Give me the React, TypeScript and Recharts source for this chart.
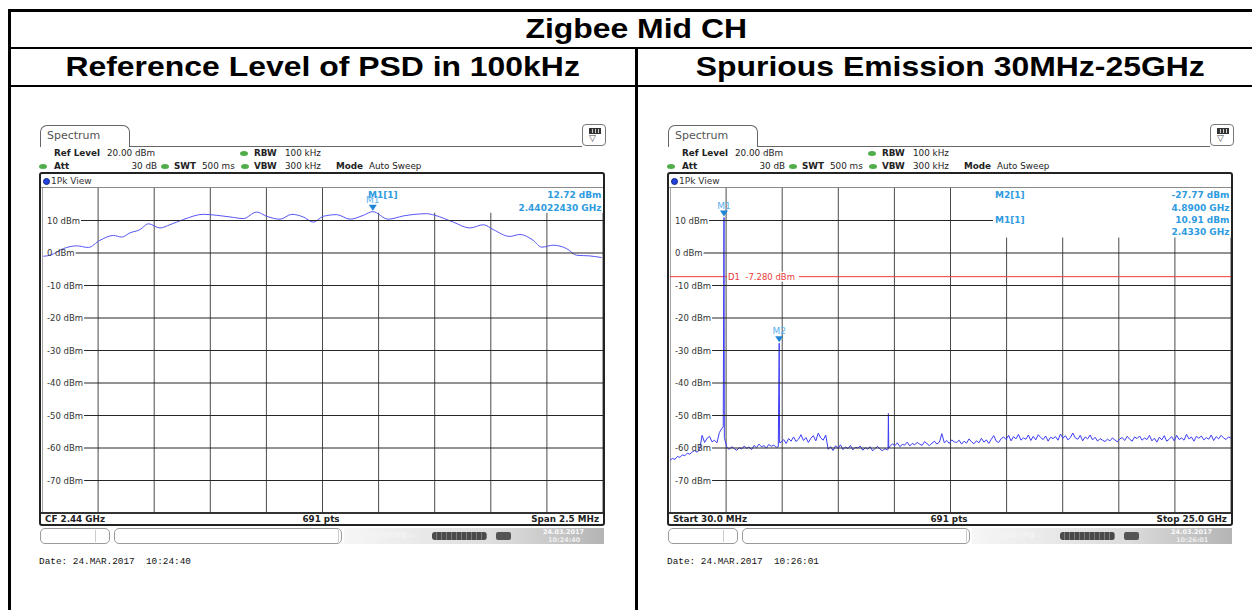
import React from "react";
import {
  LineChart,
  Line,
  XAxis,
  YAxis,
  CartesianGrid,
  ReferenceLine,
  ReferenceArea,
  ReferenceDot,
} from "recharts";

// PSD trace, 2.44 GHz centre, 2.5 MHz span
const leftFreq = [
  2438.756, 2438.786, 2438.845, 2438.905, 2438.956, 2439.008, 2439.068, 2439.105, 2439.142, 2439.187,
  2439.224, 2439.276, 2439.32, 2439.38, 2439.469, 2439.529, 2439.588, 2439.647, 2439.707, 2439.751,
  2439.811, 2439.863, 2439.914, 2439.959, 2440.004, 2440.063, 2440.123, 2440.182, 2440.2243, 2440.293,
  2440.36, 2440.464, 2440.501, 2440.583, 2440.657, 2440.717, 2440.761, 2440.835, 2440.88, 2440.939,
  2440.977, 2441.028, 2441.088, 2441.133, 2441.192, 2441.244,
];
const leftLevel = [
  -1.0, -0.7, 1.35, 2.2, 1.7, 3.9, 5.4, 4.9, 6.2, 7.2,
  9.0, 7.7, 8.7, 10.3, 11.9, 11.6, 11.1, 10.6, 12.6, 11.3,
  10.4, 11.9, 11.1, 9.5, 11.3, 11.8, 10.4, 11.6, 12.72, 10.4,
  11.4, 12.1, 11.6, 9.5, 7.7, 8.7, 7.2, 5.1, 5.7, 3.9,
  1.8, 2.4, 1.35, -0.7, -0.9, -1.4,
];

// spurious sweep 30 MHz - 25 GHz, noise floor read across the screen
const rightNoise = [
  -63.8, -63.2, -63.5, -62.6, -62.9, -62.1, -62.4, -61.6, -61.9, -61.2, -60.8, -61.3, -60.4,
  -56.1, -58.3, -57.0, -56.4, -58.1, -57.6, -58.4, -55.2, -54.0,
  -56.8,
  -59.8, -60.4, -59.6, -60.2, -60.7, -59.9, -60.3, -59.4, -60.1, -59.7, -60.5, -59.2, -59.9, -58.8, -59.6, -59.3, -60.0, -58.9, -59.5, -59.1, -59.8,
  -43.3,
  -58.2, -57.4, -58.6, -57.1, -57.9, -56.6, -58.0, -57.3, -55.9, -57.7, -56.8, -58.3, -57.0, -56.2, -57.8, -55.4, -56.9, -57.6, -56.0,
  -60.4, -59.6, -60.8, -59.3, -60.1, -59.0, -60.5, -59.7, -60.2, -59.2, -60.6, -59.8, -60.0, -59.4, -60.7, -59.9, -60.3, -59.6, -60.9, -60.1, -59.5, -60.4, -60.8, -60.2, -60.6,
  -59.5, -58.7, -59.3, -58.4, -59.6, -58.9, -59.1, -58.2, -59.4, -58.6, -59.0, -58.3, -58.8, -59.2, -58.0, -58.7, -59.3, -58.5, -57.9, -58.8, -58.2, -55.6, -58.4, -57.7, -58.6, -57.5, -58.1,
  -58.3, -57.6, -58.8, -57.9, -58.5, -57.2, -58.1, -58.7, -57.8, -58.4, -57.0, -58.2, -57.5, -58.6, -57.3, -56.2, -57.9, -58.3, -57.1, -56.6,
  -57.4, -56.1, -57.8, -56.5, -57.2, -55.8, -57.6, -56.9, -57.3, -56.0, -57.7, -56.4, -57.5, -55.9, -56.8, -57.4, -56.3, -57.9, -56.7, -57.1,
  -56.5, -57.6, -55.7, -57.0, -56.2, -57.5, -56.8, -55.4, -56.9, -57.3, -56.1, -57.8, -56.6, -57.2, -56.0, -57.5, -56.7, -57.9, -57.1, -57.6,
  -58.0, -57.3, -57.8, -56.9, -57.5, -58.1, -57.2, -56.8, -57.7, -56.4, -57.3, -57.9, -56.6, -57.1, -56.3, -57.6, -56.9, -57.4, -56.1, -57.8,
  -57.0, -58.2, -56.7, -57.5, -56.2, -57.9, -57.3, -56.5, -57.8, -56.1, -57.4, -56.9, -57.6, -55.8, -57.2, -56.6, -57.9, -56.4, -57.0, -56.3,
  -57.5, -56.8, -57.3, -56.0, -57.7, -56.5, -57.2, -56.1, -56.9, -57.4, -56.6, -57.0,
];
const rightSpikeFreq = [2400, 2415, 2433, 4850, 4890, 4910, 9735, 9751, 9767];
const rightSpikeLevel = [-53.5, -21.6, 10.91, -59.6, -27.77, -58.4, -60.4, -49.4, -60.0];

const levelTicks = [10, 0, -10, -20, -30, -40, -50, -60, -70];

const leftStart = 2438.75;
const leftStop = 2441.25;
const rightStart = 30;
const rightStop = 25000;

const leftData = leftFreq.map((f, i) => ({ f, v: leftLevel[i] }));
const rightStep = (rightStop - rightStart) / (rightNoise.length - 1);
const rightData = [
  ...rightNoise.map((v, i) => ({ f: rightStart + i * rightStep, v })),
  ...rightSpikeFreq.map((f, i) => ({ f, v: rightSpikeLevel[i] })),
].sort((a, b) => a.f - b.f);

const FONT = "'DejaVu Sans', Verdana, sans-serif";
const BLUE = "#2f9be0";
const GRID_LEFT = 42;
const GRID_TOP = 188;
const GRID_W = 561;
const GRID_H = 325;

type TProps = {
  x: number;
  y: number;
  children: React.ReactNode;
  bold?: boolean;
  color?: string;
  size?: number;
  align?: "left" | "right" | "center";
  font?: string;
};

function T({ x, y, children, bold, color = "#222", size = 8.8, align = "left", font = FONT }: TProps) {
  const shift = align === "right" ? "translateX(-100%)" : align === "center" ? "translateX(-50%)" : "none";
  return (
    <div
      style={{
        position: "absolute",
        left: x,
        top: y - 7,
        height: 14,
        lineHeight: "14px",
        fontSize: size,
        fontWeight: bold ? 700 : 400,
        color,
        fontFamily: font,
        whiteSpace: "pre",
        transform: shift,
      }}
    >
      {children}
    </div>
  );
}

function GreenDot({ x, y }: { x: number; y: number }) {
  return (
    <div
      style={{
        position: "absolute",
        left: x - 4,
        top: y - 2.5,
        width: 8,
        height: 5,
        borderRadius: "50%",
        background: "#4fae4a",
      }}
    />
  );
}

const dbmTick = (stopAt: (v: number) => number) => (props: any) => {
  const { y, payload } = props;
  const v = payload.value as number;
  const digits = String(Math.abs(v)).length;
  const w = (2.613 + digits * 0.636 + (v < 0 ? 0.361 : 0)) * 8.5;
  return (
    <g>
      <text x={5} y={y + 3} fontSize={8.5} fontFamily={FONT} fill="#333">
        {`${v} dBm`}
      </text>
      <line x1={6 + w} x2={stopAt(v)} y1={y} y2={y} stroke="#262626" strokeWidth={1} />
    </g>
  );
};

const d1Label = (props: any) => {
  const { viewBox } = props;
  const x = viewBox.x + 57;
  const y = viewBox.y;
  return (
    <g>
      <rect x={x} y={y - 5} width={72} height={10} fill="#fff" />
      <text x={x + 1} y={y + 3.2} fontSize={8.5} fill="#e83a3a" fontFamily={FONT}>
        {"D1 \u00a0-7.280 dBm"}
      </text>
    </g>
  );
};

const markerShape = (name: string) => (props: any) => {
  const { cx, cy } = props;
  return (
    <g>
      <polygon points={`${cx - 4},${cy - 7} ${cx + 4},${cy - 7} ${cx},${cy - 1}`} fill="#1f86d6" />
      <text x={cx} y={cy - 9} textAnchor="middle" fontSize={9} fill="#5ab0ee" fontFamily={FONT}>
        {name}
      </text>
    </g>
  );
};

type Marker = { name: string; f: number; v: number };
type Readout = { text: string; x: number; y: number; align?: "left" | "right" };

type PanelProps = {
  ox: number;
  data: { f: number; v: number }[];
  start: number;
  stop: number;
  markers: Marker[];
  box: { x1: number; x2: number; y1: number; y2: number };
  readouts: Readout[];
  d1?: number;
  tickStop: (v: number) => number;
  footer: [string, string, string];
  date: string;
  smooth?: boolean;
  traceColor: string;
};

function Panel({
  ox, data, start, stop, markers, box, readouts, d1, tickStop, footer, date, smooth, traceColor,
}: PanelProps) {
  const xTicks = Array.from({ length: 11 }, (_, i) => start + (i * (stop - start)) / 10);
  return (
    <>
      {/* tab + header */}
      <div
        style={{
          position: "absolute",
          left: ox + 40,
          top: 125,
          width: 90,
          height: 22,
          boxSizing: "border-box",
          border: "1px solid #666",
          borderBottom: "none",
          borderRadius: "7px 7px 0 0",
          background: "#fff",
        }}
      />
      <T x={ox + 47} y={136} size={11} color="#555">
        Spectrum
      </T>
      <div style={{ position: "absolute", left: ox + 129, top: 146, width: 453, height: 1, background: "#666" }} />
      <div
        style={{
          position: "absolute",
          left: ox + 582,
          top: 124,
          width: 24,
          height: 22,
          boxSizing: "border-box",
          border: "1px solid #777",
          borderRadius: 4,
          background: "#fff",
        }}
      >
        <div
          style={{
            position: "absolute",
            left: 6,
            top: 3,
            width: 10,
            height: 4,
            border: "1px solid #333",
            background: "repeating-linear-gradient(to right, #333 0 2px, #ccc 2px 3px)",
          }}
        />
        <div style={{ position: "absolute", left: 6, top: 8, fontSize: 9, lineHeight: "10px", color: "#444" }}>▽</div>
      </div>

      <T x={ox + 54} y={153} bold>Ref Level</T>
      <T x={ox + 107} y={153}>20.00 dBm</T>
      <GreenDot x={ox + 244} y={153} />
      <T x={ox + 254} y={153} bold>RBW</T>
      <T x={ox + 285} y={153}>100 kHz</T>

      <GreenDot x={ox + 43} y={166} />
      <T x={ox + 54} y={166} bold>Att</T>
      <T x={ox + 157} y={166} align="right">30 dB</T>
      <GreenDot x={ox + 165} y={166} />
      <T x={ox + 174} y={166} bold>SWT</T>
      <T x={ox + 202} y={166}>500 ms</T>
      <GreenDot x={ox + 245} y={166} />
      <T x={ox + 254} y={166} bold>VBW</T>
      <T x={ox + 285} y={166}>300 kHz</T>
      <T x={ox + 336} y={166} bold>Mode</T>
      <T x={ox + 369} y={166}>Auto Sweep</T>

      {/* plot frame */}
      <div
        style={{
          position: "absolute",
          left: ox + 39,
          top: 172,
          width: 566,
          height: 354,
          boxSizing: "border-box",
          border: "2px solid #222",
          borderRadius: 3,
        }}
      />
      <div
        style={{
          position: "absolute",
          left: ox + 42.5,
          top: 177.5,
          width: 7,
          height: 7,
          borderRadius: "50%",
          background: "#2244dd",
          boxSizing: "border-box",
          border: "1px solid #112288",
        }}
      />
      <T x={ox + 51} y={181} size={9} color="#333">1Pk View</T>
      <div style={{ position: "absolute", left: ox + 41, top: 187, width: 562, height: 1, background: "#8a8a8a" }} />

      <div style={{ position: "absolute", left: ox + GRID_LEFT, top: GRID_TOP }}>
        <LineChart width={GRID_W} height={GRID_H} data={data} margin={{ top: 0, right: 0, bottom: 0, left: 0 }}>
          <CartesianGrid horizontal={false} stroke="#4a4a4a" />
          <XAxis
            dataKey="f"
            type="number"
            domain={[start, stop]}
            ticks={xTicks}
            interval={0}
            allowDataOverflow
            hide
          />
          <YAxis
            type="number"
            domain={[-80, 20]}
            ticks={levelTicks}
            interval={0}
            allowDataOverflow
            mirror
            axisLine={false}
            tickLine={false}
            tick={dbmTick(tickStop)}
          />
          <ReferenceArea
            x1={box.x1}
            x2={box.x2}
            y1={box.y1}
            y2={box.y2}
            fill="#fff"
            fillOpacity={1}
            stroke="none"
            ifOverflow="hidden"
          />
          {d1 !== undefined && <ReferenceLine y={d1} stroke="#f03a3a" strokeWidth={1} label={d1Label} />}
          <Line
            type={smooth ? "monotone" : "linear"}
            dataKey="v"
            stroke={traceColor}
            strokeWidth={1}
            dot={false}
            isAnimationActive={false}
          />
          {markers.map((m) => (
            <ReferenceDot key={m.name} x={m.f} y={m.v} shape={markerShape(m.name)} />
          ))}
        </LineChart>
      </div>

      {readouts.map((r, i) => (
        <T key={i} x={ox + r.x} y={r.y} bold color={BLUE} size={9} align={r.align ?? "left"}>
          {r.text}
        </T>
      ))}

      {/* bottom info line */}
      <div style={{ position: "absolute", left: ox + 41, top: 512, width: 562, height: 2, background: "#333" }} />
      <T x={ox + 45} y={518.5} bold>{footer[0]}</T>
      <T x={ox + 321} y={518.5} bold align="center">{footer[1]}</T>
      <T x={ox + 599} y={518.5} bold align="right">{footer[2]}</T>

      {/* status bar */}
      <div
        style={{
          position: "absolute",
          left: ox + 40,
          top: 528,
          width: 70,
          height: 16,
          boxSizing: "border-box",
          border: "1px solid #9a9a9a",
          borderRadius: 5,
        }}
      >
        <div style={{ position: "absolute", left: 54, top: 1, width: 1, height: 12, background: "#ccc" }} />
      </div>
      <div
        style={{
          position: "absolute",
          left: ox + 114,
          top: 528,
          width: 228,
          height: 16,
          boxSizing: "border-box",
          border: "1px solid #9a9a9a",
          borderRadius: 5,
        }}
      >
        <div style={{ position: "absolute", left: 223, top: 1, width: 1, height: 12, background: "#ccc" }} />
      </div>
      <div
        style={{
          position: "absolute",
          left: ox + 344,
          top: 528,
          width: 260,
          height: 16,
          background: "linear-gradient(to right, #f6f6f6, #dcdcdc 60%, #b4b4b4)",
        }}
      />
      <T x={ox + 359} y={535} size={8} color="#f4f4f4" bold>Measuring...</T>
      <div
        style={{
          position: "absolute",
          left: ox + 432,
          top: 532,
          width: 55,
          height: 8,
          borderRadius: 3,
          background: "repeating-linear-gradient(to right, #4a4a4a 0 4px, #7a7a7a 4px 5px)",
        }}
      />
      <div style={{ position: "absolute", left: ox + 496, top: 532, width: 15, height: 8, background: "#555", borderRadius: 2 }} />
      <T x={ox + 543} y={532} size={6.5} color="#fafafa" bold>24.03.2017</T>
      <T x={ox + 548} y={540} size={6.5} color="#eeeeee" bold>{date}</T>

      <T x={ox + 39} y={562} size={9.4} color="#111" font="'Liberation Mono', 'Courier New', monospace">
        {`Date: 24.MAR.2017  ${date}`}
      </T>
    </>
  );
}

const leftMarkers: Marker[] = [{ name: "M1", f: 2440.2243, v: 12.72 }];
const rightMarkers: Marker[] = [
  { name: "M1", f: 2433, v: 10.91 },
  { name: "M2", f: 4890, v: -27.77 },
];

const leftReadouts: Readout[] = [
  { text: "M1[1]", x: 368, y: 195 },
  { text: "12.72 dBm", x: 601.5, y: 195, align: "right" },
  { text: "2.44022430 GHz", x: 601.5, y: 207.5, align: "right" },
];
const rightReadouts: Readout[] = [
  { text: "M2[1]", x: 367, y: 195 },
  { text: "-27.77 dBm", x: 601.5, y: 195, align: "right" },
  { text: "4.8900 GHz", x: 601.5, y: 207.5, align: "right" },
  { text: "M1[1]", x: 367, y: 219.5 },
  { text: "10.91 dBm", x: 601.5, y: 219.5, align: "right" },
  { text: "2.4330 GHz", x: 601.5, y: 232, align: "right" },
];

const TITLE_FONT = "'Liberation Sans', Arial, Helvetica, sans-serif";

function Title({ left, width, y, text }: { left: number; width: number; y: number; text: string }) {
  return (
    <div
      style={{
        position: "absolute",
        left,
        width,
        top: y - 16,
        height: 32,
        lineHeight: "32px",
        textAlign: "center",
        fontFamily: TITLE_FONT,
        fontWeight: 700,
        fontSize: 28,
        color: "#000",
      }}
    >
      <span style={{ display: "inline-block", transform: "scaleX(1.14)" }}>{text}</span>
    </div>
  );
}

export default function App() {
  const line = (s: React.CSSProperties) => <div style={{ position: "absolute", background: "#000", ...s }} />;
  return (
    <div
      style={{
        position: "absolute",
        left: 0,
        top: 0,
        width: 1252,
        height: 610,
        overflow: "hidden",
        background: "#fff",
      }}
    >
      {line({ left: 8, top: 9, width: 1260, height: 2.5 })}
      {line({ left: 8, top: 46.8, width: 1260, height: 2.5 })}
      {line({ left: 8, top: 84.8, width: 1260, height: 2.5 })}
      {line({ left: 8, top: 9, width: 2.5, height: 620 })}
      {line({ left: 635, top: 46.8, width: 2.5, height: 580 })}

      <Title left={10} width={1252} y={29} text="Zigbee Mid CH" />
      <Title left={10} width={626} y={67} text="Reference Level of PSD in 100kHz" />
      <Title left={637} width={626} y={67} text="Spurious Emission 30MHz-25GHz" />

      <Panel
        ox={0}
        data={leftData}
        start={leftStart}
        stop={leftStop}
        markers={leftMarkers}
        box={{ x1: 2440.167, x2: leftStop, y1: 12.4, y2: 20 }}
        readouts={leftReadouts}
        tickStop={() => GRID_W}
        footer={["CF 2.44 GHz", "691 pts", "Span 2.5 MHz"]}
        date="10:24:40"
        smooth
        traceColor="#5656f7"
      />
      <Panel
        ox={628}
        data={rightData}
        start={rightStart}
        stop={rightStop}
        markers={rightMarkers}
        box={{ x1: 14403, x2: rightStop, y1: 4.8, y2: 20 }}
        readouts={rightReadouts}
        d1={-7.28}
        tickStop={(v) => (v === 10 ? 323 : GRID_W)}
        footer={["Start 30.0 MHz", "691 pts", "Stop 25.0 GHz"]}
        date="10:26:01"
        traceColor="#3d3df5"
      />
    </div>
  );
}
